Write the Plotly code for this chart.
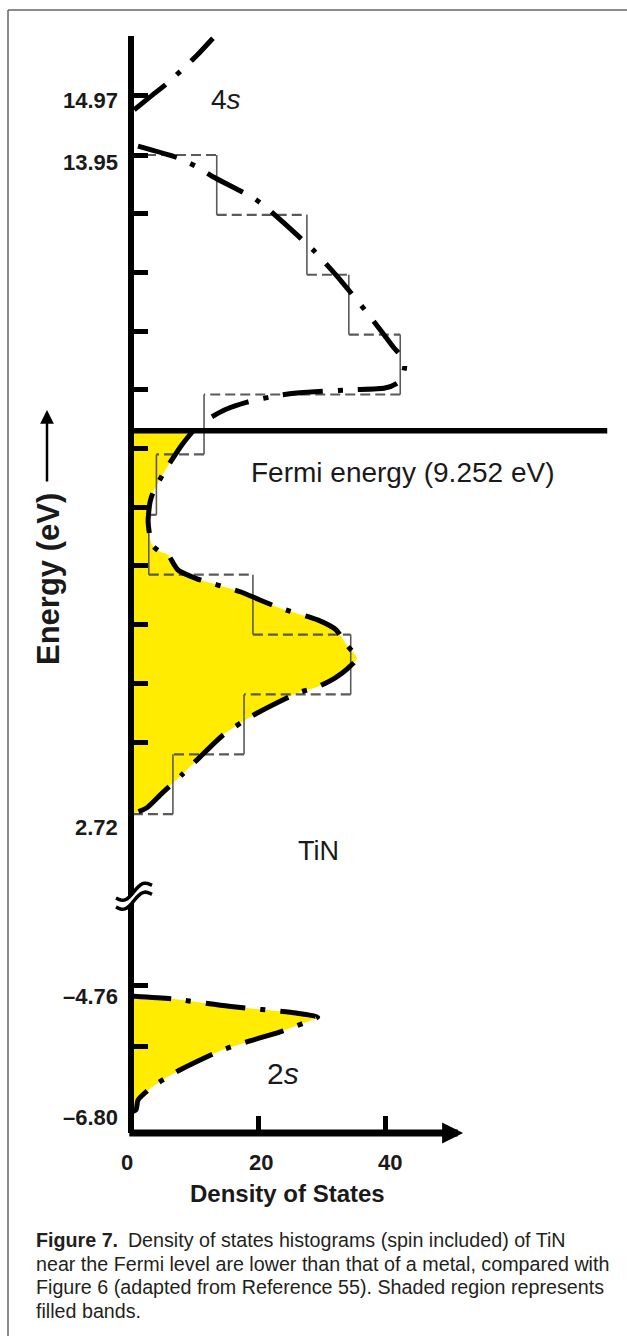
import math
import plotly.graph_objects as go

W, H = 627, 1336

# ---------------- data ----------------
fermi_energy = 9.252

# histogram (spin included): bin edges (eV) and density of states per bin
hist_edges = [13.95, 12.93, 11.91, 10.89, 9.87, 8.85, 7.82, 6.80, 5.78, 4.76, 3.74, 2.72]
hist_dos = [13.5, 27.7, 34.3, 42.4, 11.5, 4.0, 2.8, 19.2, 34.6, 17.8, 6.6]

# conduction band curve (empty states above Fermi level)
cb_dos = [1.1, 7.4, 10.2, 12.9, 19.1, 21.4, 23.9, 28.7, 31.0, 33.2, 37.2, 39.4, 41.3,
          43.0, 43.1, 42.8, 42.0, 40.0, 34.5, 26.6, 23.5, 18.3, 14.8, 12.4]
cb_e = [14.10, 13.90, 13.76, 13.58, 13.23, 13.05, 12.81, 12.33, 12.06, 11.79, 11.26, 10.95, 10.68,
        10.46, 10.34, 10.20, 10.07, 9.98, 9.95, 9.90, 9.86, 9.74, 9.61, 9.47]

# valence band curve (filled states below Fermi level)
vb_dos = [9.8, 8.0, 5.4, 3.5, 3.0, 2.7, 3.3, 4.6, 5.8, 7.4, 10.4, 17.2, 20.3, 23.5, 29.4, 32.3,
          34.0, 35.6, 34.2, 32.1, 29.4, 26.1, 19.8, 17.5, 14.5, 9.6, 8.0, 4.9, 2.5, 1.1, 0.0]
vb_e = [9.252, 9.01, 8.58, 8.21, 8.04, 7.70, 7.31, 7.19, 7.14, 6.88, 6.73, 6.51, 6.37, 6.23, 6.03, 5.86,
        5.60, 5.38, 5.21, 5.04, 4.89, 4.78, 4.44, 4.29, 4.07, 3.56, 3.39, 3.08, 2.83, 2.76, 2.72]

# 4s band onset
s4_dos = [0.5, 3.0, 5.8, 8.2, 10.4, 12.9]
s4_e = [14.72, 14.94, 15.18, 15.42, 15.65, 15.94]

# 2s band (filled)
s2_dos = [0.0, 6.5, 15.4, 26.0, 29.4, 28.5, 23.5, 18.1, 14.3, 7.7, 5.5, 3.3, 1.1, 0.8, 0.0]
s2_e = [-4.76, -4.81, -4.94, -5.06, -5.13, -5.18, -5.39, -5.57, -5.71, -6.06, -6.20, -6.36, -6.59, -6.76, -6.80]

upper_ticks = [14.97, 13.95, 12.95, 11.95, 10.95, 9.95, 8.95, 7.95, 6.95, 5.95, 4.95, 3.95]
lower_ticks = [-4.58, -5.64]
upper_label_vals = [14.97, 13.95, 2.72]
upper_label_text = ["14.97", "13.95", "2.72"]
lower_label_vals = [-4.76, -6.80]
lower_label_text = ["\u20134.76", "\u20136.80"]
x_ticks = [20, 40]
x_label_vals = [0, 20, 40]
x_label_text = ["0", "20", "40"]
x_axis_end = 52.3
fermi_line_end = 75.0

# ---------------- styling helpers ----------------
def px(x):
    return x / W

def py(y):
    return 1 - y / H

FONT = "Liberation Sans, Arial, Helvetica, sans-serif"
INK = "#1a1a1a"
YELLOW = "#FFEC00"
GRAY = "#5a5a5a"
CURVE = dict(color="black", width=5, dash="40px,15px,5px,15px")

# histogram outline segments
hx, hy = [], []
prev = 0
for i, e in enumerate(hist_edges):
    cur = hist_dos[i] if i < len(hist_dos) else 0
    hx += [prev, cur, None]
    hy += [e, e, None]
    prev = cur
vx, vy = [], []
for i, d in enumerate(hist_dos):
    vx += [d, d, None]
    vy += [hist_edges[i], hist_edges[i + 1], None]

fig = go.Figure()

# fills
fig.add_trace(go.Scatter(x=[0] + vb_dos, y=[fermi_energy] + vb_e, mode="lines", fill="toself",
                         fillcolor=YELLOW, line=dict(width=0, shape="spline", smoothing=0.6),
                         xaxis="x", yaxis="y", hoverinfo="skip"))
fig.add_trace(go.Scatter(x=s2_dos, y=s2_e, mode="lines", fill="toself",
                         fillcolor=YELLOW, line=dict(width=0), xaxis="x", yaxis="y2", hoverinfo="skip"))
# histogram
fig.add_trace(go.Scatter(x=hx, y=hy, mode="lines", line=dict(color=GRAY, width=2.2, dash="10px,5px"),
                         xaxis="x", yaxis="y", hoverinfo="skip"))
fig.add_trace(go.Scatter(x=vx, y=vy, mode="lines", line=dict(color=GRAY, width=1.6),
                         xaxis="x", yaxis="y", hoverinfo="skip"))
# curves
for xs, ys, ya in [(cb_dos, cb_e, "y"), (vb_dos, vb_e, "y"), (s4_dos, s4_e, "y"), (s2_dos, s2_e, "y2")]:
    fig.add_trace(go.Scatter(x=xs, y=ys, mode="lines",
                             line=dict(shape="spline", smoothing=0.6, **CURVE),
                             xaxis="x", yaxis=ya, hoverinfo="skip"))

# ---------------- axes ----------------
x_origin_px = 131
x_dom = (134, 622)
x_scale = 6.35
x_range = [(x_dom[0] - x_origin_px) / x_scale, (x_dom[1] - x_origin_px) / x_scale]

up_dom = (36, 893)
up_scale = 58.7
up_range = [13.95 - (up_dom[1] - 155) / up_scale, 13.95 + (155 - up_dom[0]) / up_scale]

lo_dom = (893, 1133)
lo_scale = 56.9
lo_range = [-4.76 - (lo_dom[1] - 996) / lo_scale, -4.76 + (996 - lo_dom[0]) / lo_scale]

yax_common = dict(showgrid=False, zeroline=False, showline=True, linewidth=6, linecolor="black",
                  ticks="inside", ticklen=14, tickwidth=5, tickcolor="black",
                  showticklabels=False, anchor="x", fixedrange=True)

fig.update_layout(
    width=W, height=H,
    margin=dict(l=0, r=0, t=0, b=0),
    paper_bgcolor="white", plot_bgcolor="rgba(0,0,0,0)",
    showlegend=False,
    xaxis=dict(domain=[px(x_dom[0]), px(x_dom[1])], range=x_range, anchor="y2",
               showgrid=False, zeroline=False, showline=False,
               tickvals=x_ticks, ticks="inside", ticklen=17, tickwidth=5, tickcolor="black",
               showticklabels=False, fixedrange=True),
    yaxis=dict(domain=[py(up_dom[1]), py(up_dom[0])], range=up_range, tickvals=upper_ticks, **yax_common),
    yaxis2=dict(domain=[py(lo_dom[1]), py(lo_dom[0])], range=lo_range, tickvals=lower_ticks, **yax_common),
)

# ---------------- shapes ----------------
shapes = []
# Fermi level
shapes.append(dict(type="line", xref="x", yref="y", x0=0, x1=fermi_line_end,
                   y0=fermi_energy, y1=fermi_energy, line=dict(color="black", width=5.5)))
# page frame
shapes.append(dict(type="line", xref="paper", yref="paper", x0=px(8), x1=px(8), y0=py(10), y1=0,
                   line=dict(color="#666", width=1.5)))
shapes.append(dict(type="line", xref="paper", yref="paper", x0=px(8), x1=1, y0=py(10), y1=py(10),
                   line=dict(color="#666", width=1.5)))

# axis break symbol (two wavy strokes with a white gap)
def wave(y0, n=16):
    pts = []
    for k in range(n + 1):
        x = 116 + 36 * k / n
        y = y0 - 0.35 * (x - 116) + 5 * math.sin((x - 116) / 36 * 2 * math.pi)
        pts.append((x, y))
    return pts

up_w = wave(898)
lo_w = wave(907)
poly = up_w + lo_w[::-1]
path = "M " + " L ".join(f"{px(x):.5f},{py(y):.5f}" for x, y in poly) + " Z"
shapes.append(dict(type="path", xref="paper", yref="paper", path=path,
                   fillcolor="white", line=dict(width=0)))
for w in (up_w, lo_w):
    p = "M " + " L ".join(f"{px(x):.5f},{py(y):.5f}" for x, y in w)
    shapes.append(dict(type="path", xref="paper", yref="paper", path=p,
                       line=dict(color="black", width=3.5)))
fig.update_layout(shapes=shapes)

# ---------------- annotations ----------------
ann = []
# x axis with arrow
ann.append(dict(x=x_axis_end, y=py(1133), xref="x", yref="paper", ax=-0.5, ay=0, axref="x", ayref="pixel",
                text="", showarrow=True, arrowhead=2, arrowsize=0.6, arrowwidth=7, arrowcolor="black"))
# energy arrow
ann.append(dict(x=px(47), y=py(410), xref="paper", yref="paper", ax=0, ay=73, axref="pixel", ayref="pixel",
                text="", showarrow=True, arrowhead=2, arrowsize=1.1, arrowwidth=2.5, arrowcolor="black"))

tick_font = dict(family=FONT, size=22, color=INK)
up_shift = {14.97: -5, 13.95: -7, 2.72: -13}
for v, t in zip(upper_label_vals, upper_label_text):
    ann.append(dict(x=px(120), y=v, xref="paper", yref="y", text=f"<b>{t}</b>", showarrow=False,
                    xanchor="right", yanchor="middle", yshift=up_shift[v], font=tick_font))
lo_shift = {-4.76: 0, -6.80: -5}
for v, t in zip(lower_label_vals, lower_label_text):
    ann.append(dict(x=px(120), y=v, xref="paper", yref="y2", text=f"<b>{t}</b>", showarrow=False,
                    xanchor="right", yanchor="middle", yshift=lo_shift[v], font=tick_font))
x_shift = {0: -4, 20: 3, 40: 5}
for v, t in zip(x_label_vals, x_label_text):
    ann.append(dict(x=px(x_origin_px + v * x_scale), y=py(1162), xref="paper", yref="paper",
                    text=f"<b>{t}</b>", showarrow=False,
                    xanchor="center", yanchor="middle", xshift=x_shift[v], font=tick_font))

ann.append(dict(x=px(287), y=py(1193), xref="paper", yref="paper", text="<b>Density of States</b>",
                showarrow=False, xanchor="center", yanchor="middle",
                font=dict(family=FONT, size=24, color=INK)))
ann.append(dict(x=px(48), y=py(579), xref="paper", yref="paper", text="<b>Energy (eV)</b>", textangle=-90,
                showarrow=False, xanchor="center", yanchor="middle",
                font=dict(family=FONT, size=31, color=INK)))

lab_font = dict(family=FONT, size=28, color=INK)
ann.append(dict(x=px(209), y=py(100), xref="paper", yref="paper", text="4<i>s</i>", showarrow=False,
                xanchor="left", yanchor="middle", font=lab_font))
ann.append(dict(x=px(249), y=py(472), xref="paper", yref="paper", text="Fermi energy (9.252 eV)",
                showarrow=False, xanchor="left", yanchor="middle", font=dict(family=FONT, size=28, color=INK)))
ann.append(dict(x=px(318), y=py(851), xref="paper", yref="paper", text="TiN", showarrow=False,
                xanchor="center", yanchor="middle", font=dict(family=FONT, size=27, color=INK)))
ann.append(dict(x=px(265), y=py(1073), xref="paper", yref="paper", text="2<i>s</i>", showarrow=False,
                xanchor="left", yanchor="middle", font=dict(family=FONT, size=30, color=INK)))

caption = [
    "<b>Figure 7.</b>\u2002Density of states histograms (spin included) of TiN",
    "near the Fermi level are lower than that of a metal, compared with",
    "Figure 6 (adapted from Reference 55). Shaded region represents",
    "filled bands.",
]
for i, line in enumerate(caption):
    ann.append(dict(x=px(34), y=py(1240 + i * 23.5), xref="paper", yref="paper", text=line, showarrow=False,
                    xanchor="left", yanchor="middle", font=dict(family=FONT, size=19.7, color="#231f20")))

fig.update_layout(annotations=ann)
fig.write_html("out.html")
